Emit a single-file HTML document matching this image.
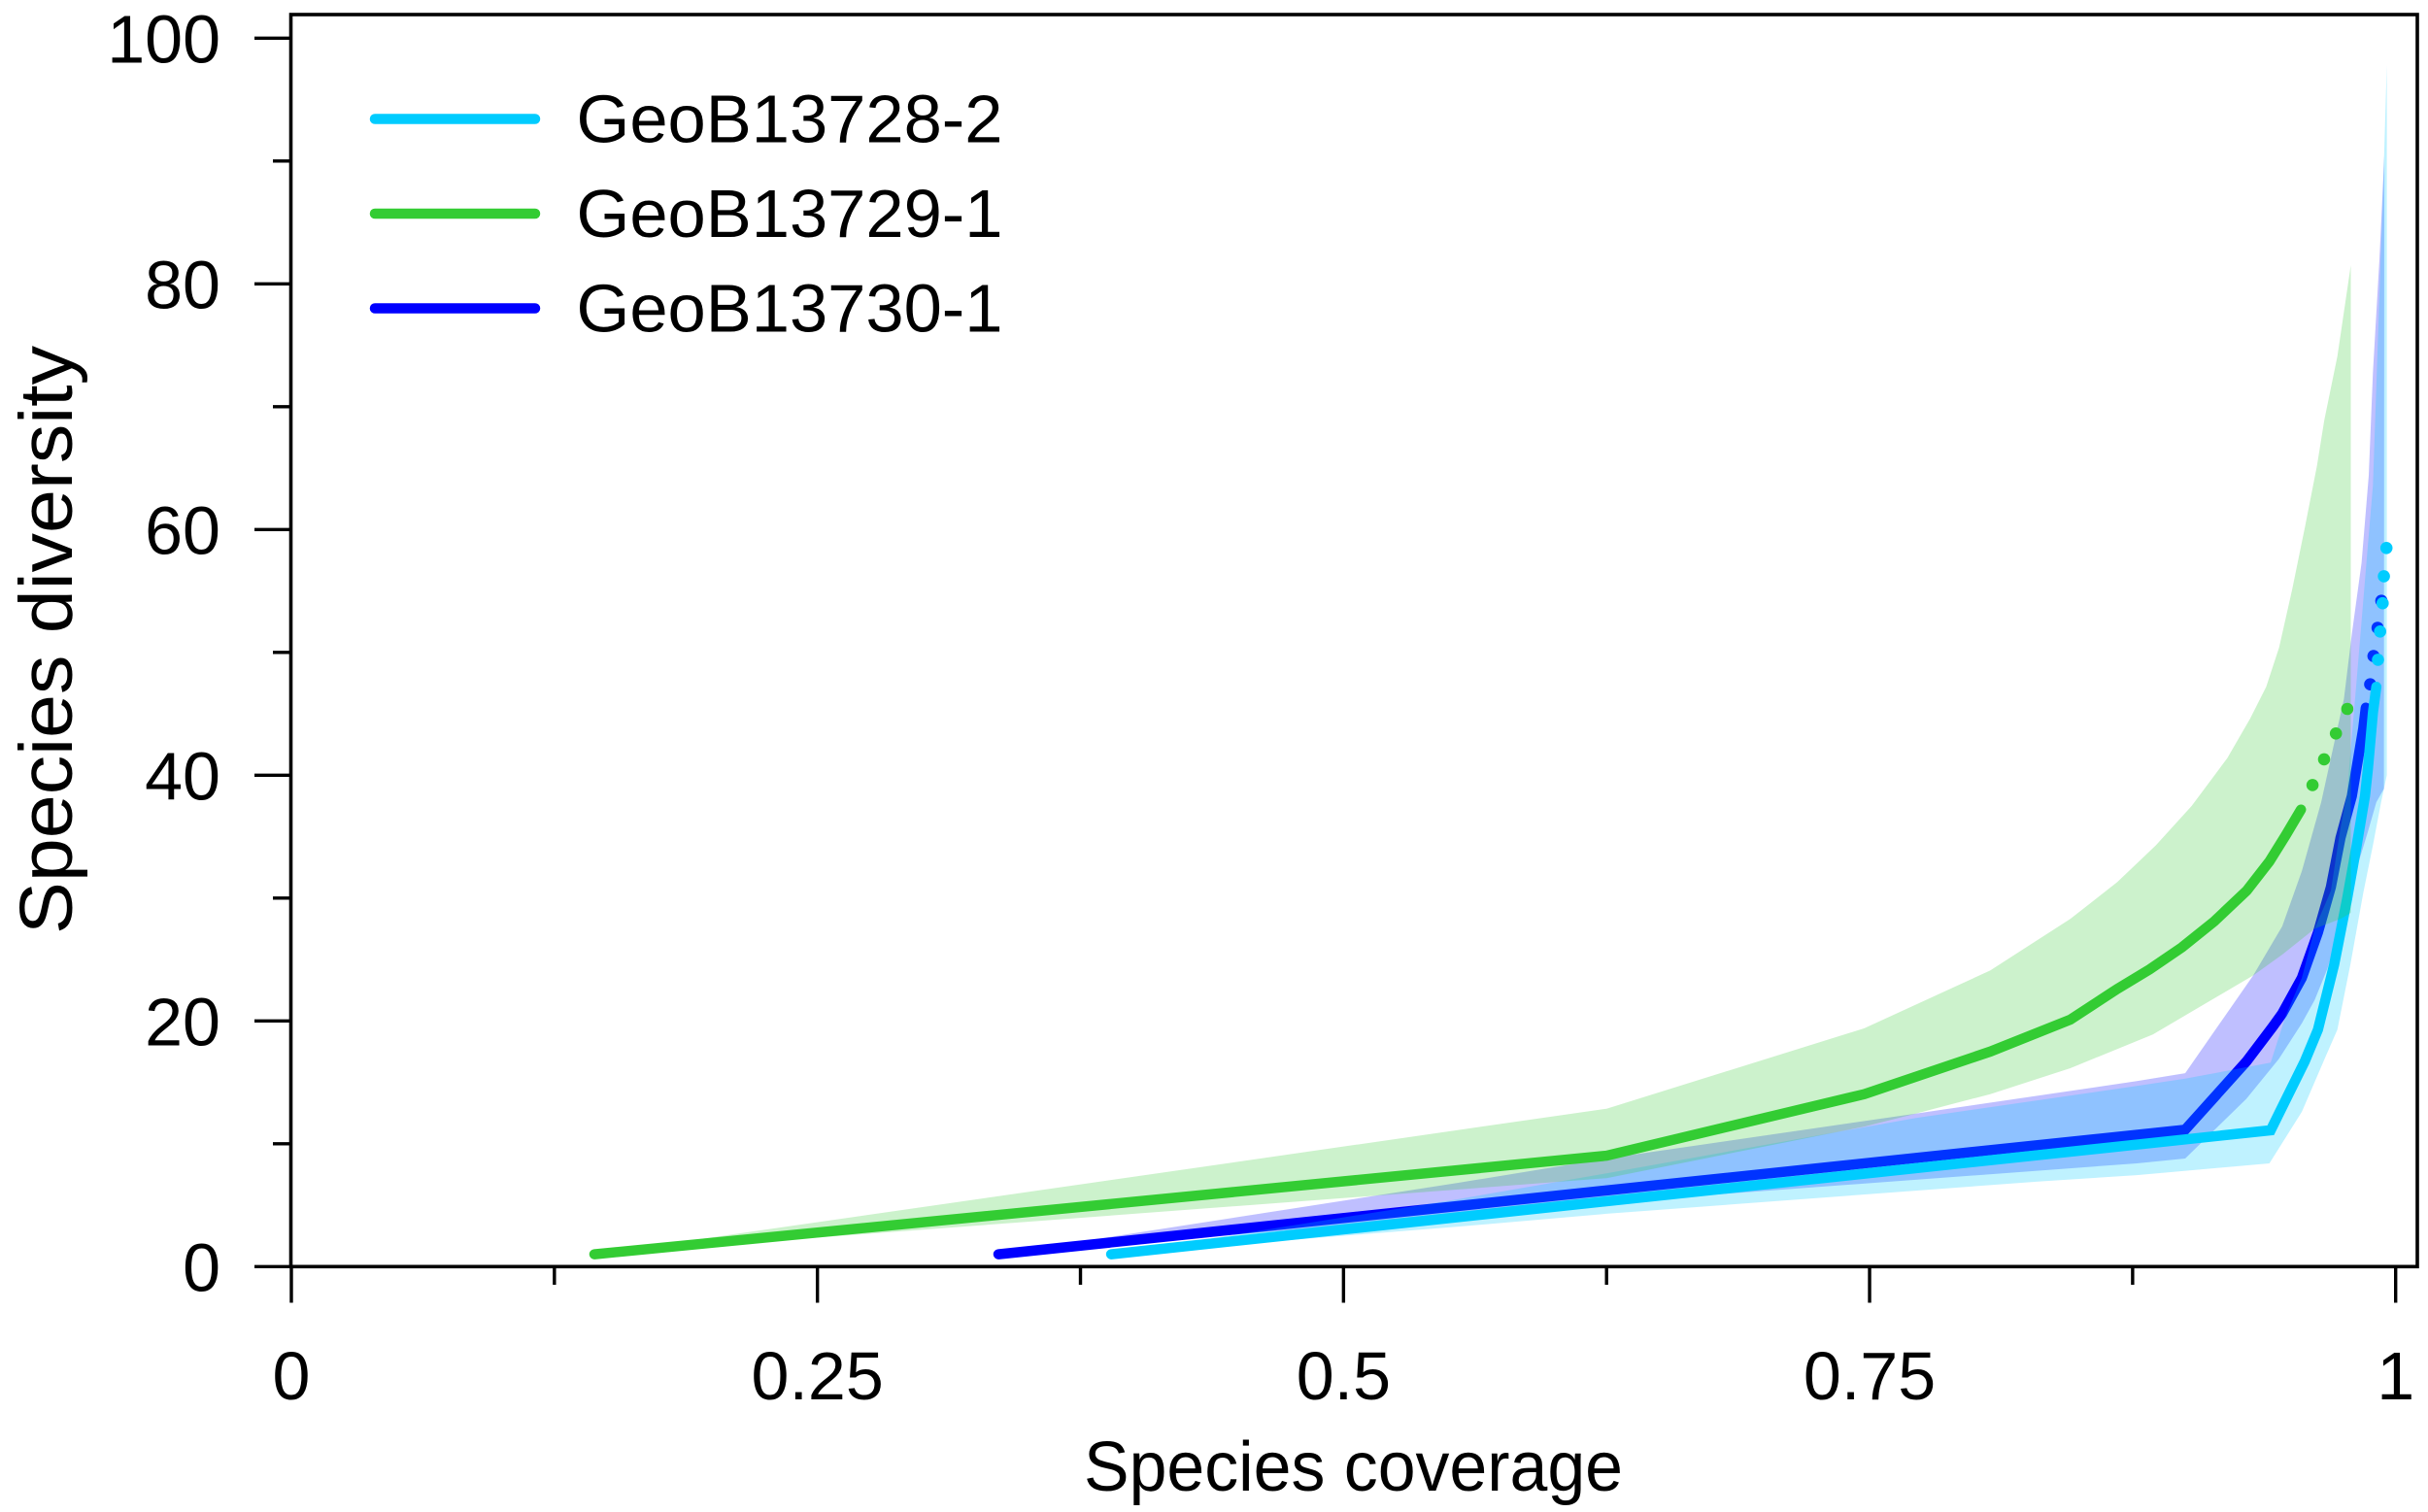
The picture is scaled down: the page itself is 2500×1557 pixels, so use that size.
<!DOCTYPE html>
<html lang="en">
<head>
<meta charset="utf-8">
<title>Species diversity vs species coverage</title>
<style>
html,body{margin:0;padding:0;background:#fff;}
svg{display:block;}
text{font-family:"Liberation Sans",Arial,sans-serif;fill:#000;}
</style>
</head>
<body>
<svg id="chart" xmlns="http://www.w3.org/2000/svg" width="2500" height="1557" viewBox="0 0 2500 1557">
  <rect x="0" y="0" width="2500" height="1557" fill="#ffffff"/>
  <g id="marks"></g>
  <rect x="299.5" y="15" width="2189.5" height="1289.3" fill="none" stroke="#000" stroke-width="3.6"/>
  <g id="axes"></g>
  <text x="1116" y="1535" font-size="72" textLength="555" lengthAdjust="spacingAndGlyphs">Species coverage</text>
  <text transform="translate(74,962) rotate(-90)" x="0" y="0" font-size="77" textLength="606" lengthAdjust="spacingAndGlyphs">Species diversity</text>
  <g>
    <g>
      <line x1="386" x2="551" y1="122.5" y2="122.5" stroke="#00CCFF" stroke-width="10.5" stroke-linecap="round"/>
      <text x="593.5" y="146.5" font-size="70" textLength="439" lengthAdjust="spacingAndGlyphs">GeoB13728-2</text>
    </g>
    <g>
      <line x1="386" x2="551" y1="220" y2="220" stroke="#33CC33" stroke-width="10.5" stroke-linecap="round"/>
      <text x="593.5" y="244" font-size="70" textLength="439" lengthAdjust="spacingAndGlyphs">GeoB13729-1</text>
    </g>
    <g>
      <line x1="386" x2="551" y1="317.5" y2="317.5" stroke="#0000FF" stroke-width="10.5" stroke-linecap="round"/>
      <text x="593.5" y="341.5" font-size="70" textLength="439" lengthAdjust="spacingAndGlyphs">GeoB13730-1</text>
    </g>
  </g>
</svg>
<script>
// Tick values
const xMajorTicks = [0, 0.25, 0.5, 0.75, 1];
const xMajorLabels = ["0", "0.25", "0.5", "0.75", "1"];
const xMinorTicks = [0.125, 0.375, 0.625, 0.875];
const yMajorTicks = [0, 20, 40, 60, 80, 100];
const yMajorLabels = ["0", "20", "40", "60", "80", "100"];
const yMinorTicks = [10, 30, 50, 70, 90];

// GeoB13730-1 (blue)
const blueLineX = [0.336, 0.9, 0.9291, 0.9415, 0.9461, 0.9554, 0.9631, 0.9692, 0.9738, 0.9792, 0.9846, 0.9858];
const blueLineY = [1, 11.15, 16.7, 19.5, 20.6, 23.5, 27.2, 30.9, 34.9, 38.3, 43.8, 45.5];
const blueDotX = [0.9879, 0.9895, 0.9914, 0.9932];
const blueDotY = [47.4, 49.7, 52, 54.2];
const blueUpperX = [0.336, 0.5538, 0.625, 0.772, 0.877, 0.9, 0.9323, 0.9461, 0.9554, 0.9646, 0.9692, 0.9754, 0.9792, 0.9838, 0.9872, 0.9892, 0.9923, 0.9946];
const blueUpperY = [1, 6.8, 8.8, 12.46, 15.1, 15.75, 23.7, 27.7, 32.2, 37.8, 41.4, 46.2, 51.5, 57.3, 64.4, 72.8, 82, 90.4];
const blueLowerX = [0.336, 0.6777, 0.877, 0.9, 0.929, 0.9445, 0.9554, 0.9615, 0.9677, 0.974, 0.98, 0.9868, 0.9908, 0.9944];
const blueLowerY = [1, 5.87, 8.4, 8.8, 13.65, 16.9, 19.8, 21.7, 24.3, 28, 31.6, 35.4, 37.8, 38.9];

// GeoB13728-2 (cyan)
const cyanLineX = [0.3896, 0.9406, 0.9568, 0.9631, 0.9708, 0.9769, 0.9815, 0.9854, 0.9868, 0.9892, 0.9908];
const cyanLineY = [1, 11.1, 16.7, 19.3, 24.6, 29.9, 34.3, 38.3, 40.5, 45.1, 47.2];
const cyanDotX = [0.9916, 0.9926, 0.9938, 0.9944, 0.9956];
const cyanDotY = [49.4, 51.7, 54, 56.2, 58.5];
const cyanUpperX = [0.3896, 0.5538, 0.625, 0.772, 0.877, 0.9, 0.9406, 0.9477, 0.9554, 0.9615, 0.9692, 0.9738, 0.9769, 0.9815, 0.9861, 0.9892, 0.9942, 0.9958];
const cyanUpperY = [1, 5.47, 7.6, 12.1, 14.7, 15.3, 16.6, 20.4, 23.5, 27.5, 30.6, 35.7, 38.5, 47.8, 57.3, 63.6, 88.6, 97.8];
const cyanLowerX = [0.3896, 0.5538, 0.625, 0.8308, 0.877, 0.94, 0.9554, 0.9662, 0.9723, 0.9785, 0.9846, 0.9892, 0.9931, 0.9958];
const cyanLowerY = [1, 3.24, 4.3, 6.93, 7.45, 8.4, 12.6, 16.9, 19.3, 24.6, 30.4, 34.3, 37.8, 40];

// GeoB13729-1 (green)
const greenLineX = [0.144, 0.625, 0.7475, 0.8073, 0.8454, 0.8677, 0.8831, 0.8985, 0.9138, 0.9292, 0.94, 0.9477, 0.955];
const greenLineY = [1, 9.03, 14.04, 17.5, 20.1, 22.6, 24.2, 26, 28.1, 30.6, 32.98, 35.1, 37.2];
const greenDotX = [0.9605, 0.966, 0.9716, 0.977];
const greenDotY = [39.2, 41.3, 43.4, 45.4];
const greenUpperX = [0.144, 0.625, 0.7475, 0.8073, 0.8454, 0.8677, 0.8861, 0.9031, 0.92, 0.9308, 0.9385, 0.9446, 0.9508, 0.9569, 0.9626, 0.9661, 0.9723, 0.9787];
const greenUpperY = [1, 12.85, 19.4, 24.1, 28.3, 31.3, 34.3, 37.5, 41.4, 44.6, 47.2, 50.4, 55.1, 60.2, 65.2, 68.9, 74.1, 81.5];
const greenLowerX = [0.144, 0.5538, 0.625, 0.7475, 0.772, 0.8073, 0.8454, 0.8846, 0.9323, 0.9461, 0.9615, 0.9738, 0.9787];
const greenLowerY = [1, 6.27, 7.2, 11.4, 12.46, 14.04, 16.15, 18.9, 23.7, 25.4, 27.5, 28.3, 28.8];

// Axis functions
function xScale(v) { return 300 + 2166.7 * v; }
function yScale(v) { return 1304.3 - 12.65 * v; }

const NS = "http://www.w3.org/2000/svg";
const marks = document.getElementById("marks");
const axes = document.getElementById("axes");

function pointsOf(xs, ys) {
  return xs.map(function (x, i) { return xScale(x).toFixed(1) + "," + yScale(ys[i]).toFixed(1); });
}

function drawBand(name, color, upX, upY, loX, loY) {
  const el = document.createElementNS(NS, "polygon");
  el.setAttribute("points", pointsOf(upX, upY).concat(pointsOf(loX, loY).reverse()).join(" "));
  el.setAttribute("fill", color);
  el.setAttribute("fill-opacity", "0.25");
  
  
  marks.appendChild(el);
}

function drawLine(name, color, xs, ys) {
  const el = document.createElementNS(NS, "polyline");
  el.setAttribute("points", pointsOf(xs, ys).join(" "));
  el.setAttribute("fill", "none");
  el.setAttribute("stroke", color);
  el.setAttribute("stroke-width", "10.5");
  el.setAttribute("stroke-linecap", "round");
  el.setAttribute("stroke-linejoin", "miter");
  
  
  marks.appendChild(el);
}

function drawDots(name, color, xs, ys) {
  xs.forEach(function (x, i) {
    const c = document.createElementNS(NS, "circle");
    c.setAttribute("cx", xScale(x).toFixed(1));
    c.setAttribute("cy", yScale(ys[i]).toFixed(1));
    c.setAttribute("r", "6.3");
    c.setAttribute("fill", color);
    
    
    marks.appendChild(c);
  });
}

drawBand("band-geob13730-1", "#0000FF", blueUpperX, blueUpperY, blueLowerX, blueLowerY);
drawLine("line-geob13730-1", "#0000FF", blueLineX, blueLineY);
drawDots("extrapolation-dot-geob13730-1", "#0000FF", blueDotX, blueDotY);
drawBand("band-geob13728-2", "#00CCFF", cyanUpperX, cyanUpperY, cyanLowerX, cyanLowerY);
drawLine("line-geob13728-2", "#00CCFF", cyanLineX, cyanLineY);
drawDots("extrapolation-dot-geob13728-2", "#00CCFF", cyanDotX, cyanDotY);
drawBand("band-geob13729-1", "#33CC33", greenUpperX, greenUpperY, greenLowerX, greenLowerY);
drawLine("line-geob13729-1", "#33CC33", greenLineX, greenLineY);
drawDots("extrapolation-dot-geob13729-1", "#33CC33", greenDotX, greenDotY);

function tickLine(name, x1, y1, x2, y2) {
  const t = document.createElementNS(NS, "line");
  t.setAttribute("x1", x1);
  t.setAttribute("y1", y1);
  t.setAttribute("x2", x2);
  t.setAttribute("y2", y2);
  t.setAttribute("stroke", "#000");
  t.setAttribute("stroke-width", "3.4");
  
  
  axes.appendChild(t);
}

function tickLabel(name, str, x, y, anchor) {
  const t = document.createElementNS(NS, "text");
  t.textContent = str;
  t.setAttribute("x", x);
  t.setAttribute("y", y);
  t.setAttribute("font-size", "70");
  t.setAttribute("text-anchor", anchor);
  
  
  axes.appendChild(t);
}

xMajorTicks.forEach(function (v, i) {
  tickLine("x-major-tick", xScale(v), 1304.3, xScale(v), 1341.5);
  tickLabel("x-tick-label", xMajorLabels[i], xScale(v), 1441, "middle");
});
xMinorTicks.forEach(function (v) {
  tickLine("x-minor-tick", xScale(v), 1304.3, xScale(v), 1323);
});
yMajorTicks.forEach(function (v, i) {
  tickLine("y-major-tick", 299.5, yScale(v), 262, yScale(v));
  tickLabel("y-tick-label", yMajorLabels[i], 227, yScale(v) + 25, "end");
});
yMinorTicks.forEach(function (v) {
  tickLine("y-minor-tick", 299.5, yScale(v), 281, yScale(v));
});
</script>
</body>
</html>
